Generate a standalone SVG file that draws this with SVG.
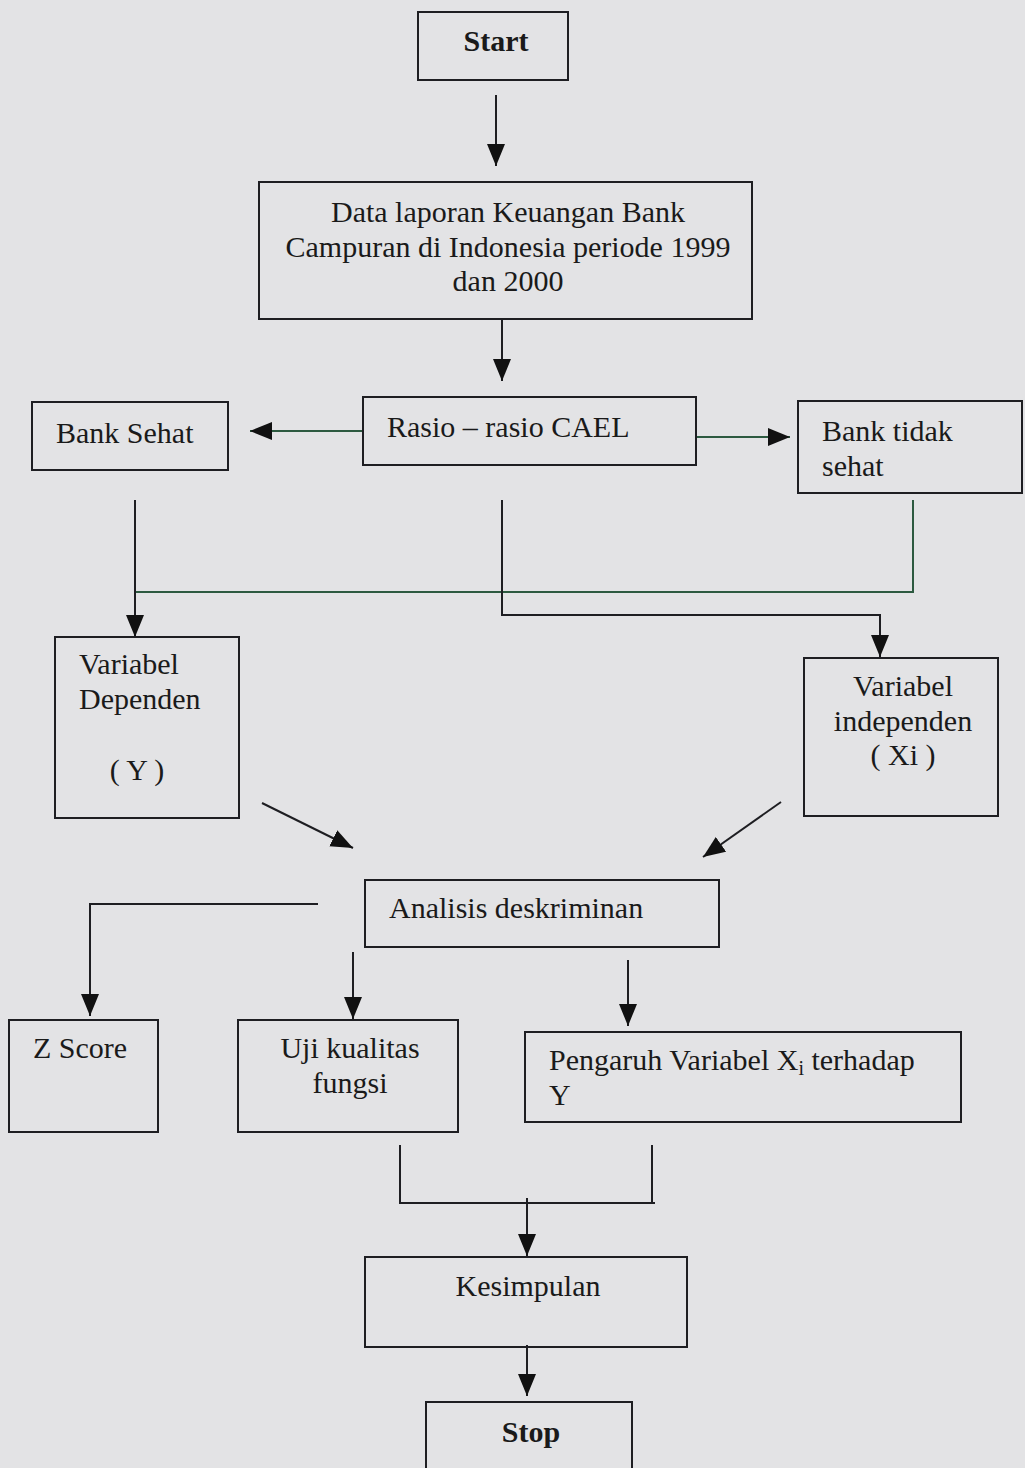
<svg xmlns="http://www.w3.org/2000/svg" width="1025" height="1468" viewBox="0 0 1025 1468">
<style>
.box{fill:none;stroke:#1e1e22;stroke-width:2}
.t{font-family:'Liberation Serif','Times New Roman',Times,'DejaVu Serif',serif;font-size:30px;fill:#1a1a1a}
.b{font-weight:bold}
.c{text-anchor:middle}
.ln{fill:none;stroke:#1e1e22;stroke-width:2}
.g{stroke:#2d5a40}
</style>
<defs>
<marker id="ah" markerUnits="userSpaceOnUse" markerWidth="26" markerHeight="20" refX="22" refY="9" orient="auto">
<path d="M0,0 L22,9 L0,18 Z" fill="#111"/>
</marker>
</defs>
<rect width="1025" height="1468" fill="#e3e3e5"/>
<g id="connectors">
<line class="ln" x1="496" y1="95" x2="496" y2="166" marker-end="url(#ah)"/>
<line class="ln" x1="502" y1="320" x2="502" y2="381" marker-end="url(#ah)"/>
<line class="ln g" x1="363" y1="431" x2="250" y2="431" marker-end="url(#ah)"/>
<line class="ln g" x1="696" y1="437" x2="790" y2="437" marker-end="url(#ah)"/>
<line class="ln" x1="135" y1="500" x2="135" y2="637" marker-end="url(#ah)"/>
<polyline class="ln g" points="136,592 913,592 913,500"/>
<polyline class="ln" points="502,500 502,615 880,615 880,657" marker-end="url(#ah)"/>
<line class="ln" x1="262" y1="803" x2="353" y2="848" marker-end="url(#ah)"/>
<line class="ln" x1="781" y1="802" x2="703" y2="857" marker-end="url(#ah)"/>
<polyline class="ln" points="318,904 90,904 90,1016" marker-end="url(#ah)"/>
<line class="ln" x1="353" y1="952" x2="353" y2="1019" marker-end="url(#ah)"/>
<line class="ln" x1="628" y1="960" x2="628" y2="1026" marker-end="url(#ah)"/>
<polyline class="ln" points="400,1145 400,1203 655,1203"/>
<line class="ln" x1="652" y1="1145" x2="652" y2="1204"/>
<line class="ln" x1="527" y1="1198" x2="527" y2="1256" marker-end="url(#ah)"/>
<line class="ln" x1="527" y1="1345" x2="527" y2="1396" marker-end="url(#ah)"/>
</g>
<g id="start"><rect class="box" x="418" y="12" width="150" height="68"/><text class="t b c" x="496" y="51">Start</text></g>
<g id="data"><rect class="box" x="259" y="182" width="493" height="137"/>
<text class="t c" x="508" y="222">Data laporan Keuangan Bank</text>
<text class="t c" x="508" y="257">Campuran di Indonesia periode 1999</text>
<text class="t c" x="508" y="291">dan 2000</text></g>
<g id="rasio"><rect class="box" x="363" y="397" width="333" height="68"/><text class="t" x="387" y="437">Rasio – rasio CAEL</text></g>
<g id="bank-sehat"><rect class="box" x="32" y="402" width="196" height="68"/><text class="t" x="56" y="443">Bank Sehat</text></g>
<g id="bank-tidak-sehat"><rect class="box" x="798" y="401" width="224" height="92"/>
<text class="t" x="822" y="441">Bank tidak</text><text class="t" x="822" y="476">sehat</text></g>
<g id="var-dependen"><rect class="box" x="55" y="637" width="184" height="181"/>
<text class="t" x="79" y="674">Variabel</text><text class="t" x="79" y="709">Dependen</text>
<text class="t c" x="137" y="780">( Y )</text></g>
<g id="var-independen"><rect class="box" x="804" y="658" width="194" height="158"/>
<text class="t c" x="903" y="696">Variabel</text><text class="t c" x="903" y="731">independen</text>
<text class="t c" x="903" y="765">( Xi )</text></g>
<g id="analisis"><rect class="box" x="365" y="880" width="354" height="67"/><text class="t" x="389" y="918">Analisis deskriminan</text></g>
<g id="zscore"><rect class="box" x="9" y="1020" width="149" height="112"/><text class="t" x="33" y="1058">Z Score</text></g>
<g id="uji"><rect class="box" x="238" y="1020" width="220" height="112"/>
<text class="t c" x="350" y="1058">Uji kualitas</text><text class="t c" x="350" y="1093">fungsi</text></g>
<g id="pengaruh"><rect class="box" x="525" y="1032" width="436" height="90"/>
<text class="t" x="549" y="1070">Pengaruh Variabel X<tspan font-size="20" dy="5">i</tspan><tspan dy="-5"> terhadap</tspan></text>
<text class="t" x="549" y="1105">Y</text></g>
<g id="kesimpulan"><rect class="box" x="365" y="1257" width="322" height="90"/><text class="t c" x="528" y="1296">Kesimpulan</text></g>
<g id="stop"><rect class="box" x="426" y="1402" width="206" height="80"/><text class="t b c" x="531" y="1442">Stop</text></g>
</svg>
